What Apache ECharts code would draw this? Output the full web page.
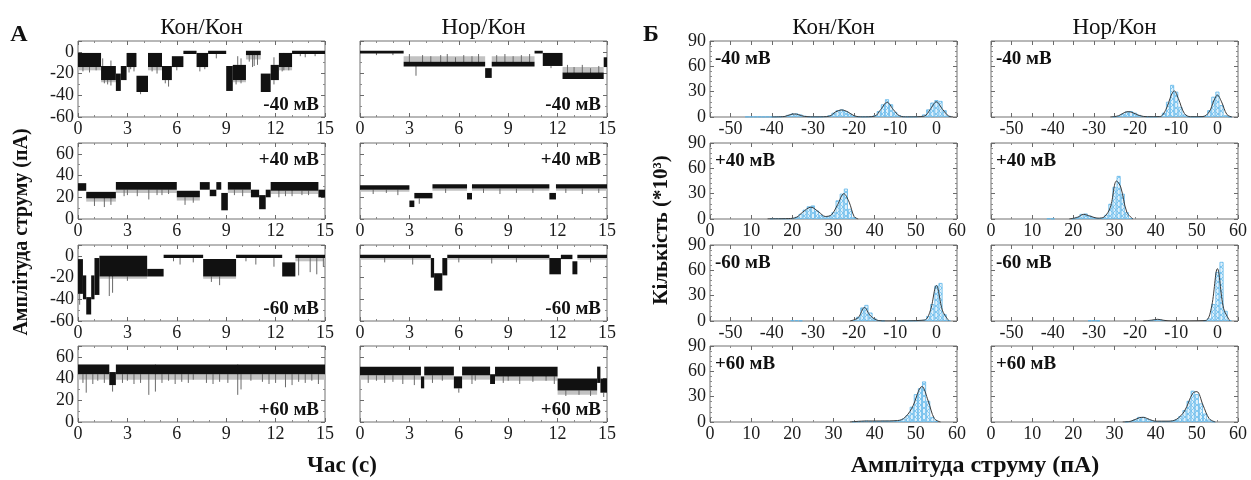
<!DOCTYPE html>
<html><head><meta charset="utf-8">
<script src="https://cdn.jsdelivr.net/npm/echarts@6.0.0/dist/echarts.min.js"></script>
<style>html,body{margin:0;padding:0;background:#fff}#c{width:1251px;height:480px}</style>
</head><body><div id="c"></div>
<script>
// ---------- DATA ----------
const columnTitles = ['Кон/Кон', 'Нор/Кон'];
const voltageLabels = ['-40 мВ', '+40 мВ', '-60 мВ', '+60 мВ'];
const timeTickStep = 3;

// Current traces: blocks [t0, t1, upper pA, lower pA]; fringe = grey noise bands; spikes [t, from pA, to pA]
const traceKonM40 = [[0,1.4,-1,-14],[1.4,2.3,-13,-26],[2.3,2.6,-20,-36],[2.6,2.95,-13,-26],[2.95,3.55,-1,-14],[3.55,4.25,-22,-37],[4.25,5.1,-1,-14],[5.1,5.7,-13,-26],[5.7,6.4,-4,-14],[6.4,7.2,1,-2],[7.2,7.9,-1,-14],[7.9,9.0,1,-2],[9.0,9.4,-13,-36],[9.4,10.2,-12,-26],[10.2,11.1,1,-3],[11.1,11.7,-20,-37],[11.7,12.2,-12,-26],[12.2,13.0,-1,-14],[13.0,15,1,-2]];
const fringeKonM40 = [[0,1.4,-14,-17],[1.4,2.3,-26,-28],[4.25,5.1,-14,-17],[9.4,10.2,-26,-28],[10.2,11.1,-3,-7],[12.2,13.0,-14,-17]];
const spikesKonM40 = [[1.8,-14,-30],[3.2,-2,-16],[5.5,-20,-32],[8.4,-1,-6],[10.6,-1,-14],[10.9,-1,-12],[12.5,-1,-17],[13.5,0,-4],[0.3,-14,-18],[0.7,-14,-19],[1.1,-14,-17],[1.6,-26,-29],[2.0,-26,-31],[3.1,-14,-19],[3.4,-14,-18],[3.8,-37,-39],[4.5,-14,-18],[4.8,-14,-20],[5.3,-26,-29],[6.0,-14,-17],[7.4,-14,-18],[7.7,-14,-16],[9.6,-26,-30],[9.9,-26,-29],[10.4,-3,-9],[10.7,-3,-13],[11.9,-26,-30],[12.4,-14,-18],[12.8,-14,-17],[13.8,-2,-5],[14.4,-2,-4],[1.5,-13,-6],[2.0,-13,-8],[9.7,-12,-4],[9.9,-12,-6],[11.9,-12,-5]];
const traceNorM40 = [[0,2.65,1,-1.5],[2.65,7.6,-9,-13.5],[7.6,8.0,-15,-24],[8.0,10.6,-9,-13.5],[10.6,11.1,1,-1.5],[11.1,12.3,-1,-13],[12.3,14.8,-19,-25],[14.8,15,-5,-14]];
const fringeNorM40 = [[2.65,7.6,-4,-9],[8.0,10.6,-4,-9],[12.3,14.8,-14,-19]];
const spikesNorM40 = [[3.0,-2,-12],[3.4,-12,-22],[3.8,-3,-12],[4.3,-4,-12],[4.9,-3,-12],[5.3,-2,-12],[5.8,-5,-12],[6.3,-3,-12],[6.8,-4,-12],[7.2,-2,-12],[8.3,-3,-12],[8.8,-2,-12],[9.3,-4,-12],[9.8,-3,-12],[10.3,-2,-12],[12.6,-12,-24],[13.0,-14,-24],[13.5,-12,-24],[14.0,-15,-24],[14.5,-13,-24],[15,-8,-14],[1.0,-1,-3],[2.0,-1,-3],[11.6,-13,-15]];
const traceKonP40 = [[0,0.5,33,26],[0.5,2.3,25,19],[2.3,6.0,34,27],[6.0,7.4,26,20],[7.4,8.0,34,27],[8.0,8.4,27,21],[8.4,8.7,34,27],[8.7,9.1,24,8],[9.1,10.5,34,27],[10.5,11.0,27,20],[11.0,11.4,22,9],[11.4,11.7,27,20],[11.7,14.6,34,26],[14.6,15,27,20]];
const fringeKonP40 = [[0.5,2.3,19,16],[2.3,6.0,27,24],[6.0,7.4,20,17],[9.1,10.5,27,24],[11.7,14.6,26,23]];
const spikesKonP40 = [[1.0,20,12],[1.6,20,11],[2.0,20,13],[3.0,27,22],[4.3,27,18],[4.8,27,22],[5.5,27,23],[6.5,20,13],[7.0,20,15],[10.0,27,21],[12.2,27,20],[13.0,27,21],[14.0,26,22],[2.8,27,21],[3.6,27,21],[5.1,27,22],[9.5,27,22],[12.6,26,21],[13.6,26,22]];
const traceNorP40 = [[0,3.0,31,27],[3.0,3.3,17,11],[3.3,4.4,24,19],[4.4,6.5,32,28],[6.5,6.8,24,18],[6.8,11.5,32,28],[11.5,11.9,24,18],[11.9,15,32,28]];
const fringeNorP40 = [[0,3.0,27,25],[4.4,6.5,28,26],[6.8,11.5,28,26],[11.9,15,28,26]];
const spikesNorP40 = [[0.8,27,23],[1.6,27,24],[2.3,27,22],[3.6,19,14],[5.2,28,24],[7.5,28,24],[8.5,28,23],[9.5,28,24],[10.5,28,24],[12.5,28,24],[13.5,28,23],[14.5,28,24]];
const traceKonM60 = [[0,0.3,-3,-35],[0.3,0.5,-18,-40],[0.5,0.8,-38,-54],[0.8,1.0,-18,-40],[1.0,1.3,-2,-36],[1.3,4.2,0,-19],[4.2,5.2,-12,-19],[5.2,7.6,1,-2],[7.6,9.6,-3,-19],[9.6,12.4,1,-2],[12.4,13.2,-6,-19],[13.2,15,1,-2]];
const fringeKonM60 = [[1.3,4.2,-19,-21],[7.6,9.6,-19,-21],[13.2,15,-2,-5]];
const spikesKonM60 = [[1.9,-15,-37],[2.1,-15,-34],[6.2,-2,-8],[8.6,-19,-27],[10.8,-2,-8],[11.9,-2,-10],[13.4,-2,-18],[14.1,-2,-15],[14.5,-2,-17],[14.9,-2,-10],[0.1,-35,-45],[5.8,-2,-5],[7.0,-2,-6],[10.2,-2,-5],[3.0,-19,-23],[8.1,-19,-24]];
const traceNorM60 = [[0,4.3,1,-2],[4.3,4.5,-2,-20],[4.5,5.0,-16,-32],[5.0,5.3,-2,-18],[5.3,11.5,1,-2],[11.5,12.2,-2,-17],[12.2,12.9,1,-3],[12.9,13.2,-5,-17],[13.2,15,1,-2]];
const fringeNorM60 = [[0,4.3,-2,-3.5],[5.3,11.5,-2,-3.5],[13.2,15,-2,-3.5]];
const spikesNorM60 = [[1.5,-2,-6],[3.2,-2,-8],[6.0,-2,-6],[8.0,-2,-7],[9.5,-2,-6],[14.0,-2,-6]];
const traceKonP60 = [[0,1.9,53,44],[1.9,2.3,46,34],[2.3,15,53,44]];
const fringeKonP60 = [[0,1.9,44,39],[2.3,15,44,39]];
const spikesKonP60 = [[0.3,44,36],[0.5,44,27],[1.2,44,38],[2.1,34,28],[3.0,44,38],[3.8,44,36],[4.3,44,25],[4.7,53,28],[5.5,44,38],[6.3,44,37],[7.0,44,39],[7.8,44,36],[8.6,44,37],[9.7,53,25],[9.9,44,30],[10.5,44,38],[11.2,44,37],[12.0,44,36],[12.6,44,32],[13.4,44,37],[14.2,44,38],[0.9,44,35],[1.6,44,36],[2.7,44,36],[3.4,44,35],[5.1,44,36],[5.9,44,35],[6.7,44,36],[8.2,44,35],[9.1,44,36],[11.6,44,35],[13.0,44,34],[13.8,44,36],[14.6,44,35]];
const traceNorP60 = [[0,3.7,51,43],[3.7,3.9,42,31],[3.9,5.7,51,43],[5.7,6.2,42,31],[6.2,7.9,51,43],[7.9,8.2,44,35],[8.2,12.0,51,42],[12.0,14.4,40,29],[14.4,14.6,51,36],[14.6,15,40,27]];
const fringeNorP60 = [[0,3.7,43,39],[3.9,5.7,43,39],[6.2,7.9,43,39],[8.2,12.0,42,38],[12.0,14.4,29,25]];
const spikesNorP60 = [[1.0,43,38],[2.0,43,37],[3.3,43,34],[5.0,43,38],[6.0,31,27],[7.0,43,38],[9.0,43,38],[10.5,43,37],[11.3,43,38],[12.5,29,24],[13.3,29,25],[14.0,29,24],[14.8,27,23],[0.5,43,36],[1.5,43,36],[2.6,43,35],[4.4,43,36],[6.8,43,35],[8.7,42,36],[9.7,42,35],[11.8,42,35]];

// Histograms: [amplitude pA, count *10^3]; fits: [amplitude, count]
const histKonM40 = [[-46,0.3],[-45,0.4],[-44,0.3],[-43,0.3],[-42,0.2],[-41,0.3],[-40,0.2],[-39,0.3],[-38,0.5],[-37,1],[-36,2.5],[-35,4],[-34,4.2],[-33,3],[-32,1.5],[-31,0.6],[-30,0.3],[-29,0.3],[-28,0.4],[-27,0.8],[-26,2],[-25,5],[-24,8],[-23,9],[-22,7],[-21,4],[-20,1.5],[-19,0.6],[-18,0.4],[-17,0.4],[-16,0.6],[-15,2],[-14,7],[-13,15],[-12,21],[-11,15],[-10,6],[-9,2],[-8,0.6],[-7,0.4],[-6,0.4],[-5,0.5],[-4,1],[-3,3],[-2,9],[-1,17],[0,20],[1,19],[2,8],[3,1.5]];
const fitKonM40 = [[-40,0],[-37,0.5],[-35.5,2.8],[-34.5,3.6],[-33.5,2.8],[-32,0.6],[-29,0.1],[-26,1],[-24.5,6],[-23,8.3],[-21.5,6],[-20,1.5],[-18,0.1],[-15,1],[-13.5,9],[-12,17.5],[-10.5,9],[-9,1.5],[-7,0.1],[-3,1],[-1.5,9],[0,18],[1.5,9],[3,1],[4,0.1]];
const histNorM40 = [[-25,0.4],[-24,1.5],[-23,4],[-22,6.5],[-21,7],[-20,5],[-19,2.5],[-18,1],[-17,0.5],[-16,0.4],[-15,0.4],[-14,1],[-13,5],[-12,18],[-11,38],[-10,30],[-9,12],[-8,3],[-7,0.6],[-6,0.3],[-5,0.3],[-4,0.4],[-3,1.5],[-2,8],[-1,24],[0,30],[1,14],[2,2],[3,0.3]];
const fitNorM40 = [[-26,0],[-24,1.5],[-22.5,5.5],[-21.5,6.3],[-20.5,5],[-19,1.8],[-17,0.3],[-14,0.5],[-12.5,9],[-11.2,26],[-10.5,31],[-9.5,22],[-8,4],[-6.5,0.3],[-3.5,0.5],[-2,6],[-0.8,20],[0,26],[1,18],[2.3,3],[3.5,0]];
const histKonP40 = [[15,0.6],[16,0.8],[17,0.7],[18,0.5],[19,0.6],[20,1],[21,2.5],[22,6],[23,11],[24,15],[25,16],[26,10],[27,5],[28,3],[29,3.5],[30,8],[31,22],[32,30],[33,36],[34,12],[35,2]];
const fitKonP40 = [[14,0.2],[19,0.5],[21,2],[22.5,8],[24.5,14],[26.5,8],[28,3],[29.5,5],[31,17],[32.5,30],[33.8,20],[35,3],[36,0]];
const histNorP40 = [[14,0.6],[15,0.4],[20,0.5],[21,2.5],[22,6],[23,6.5],[24,4],[25,2],[26,1],[27,1.5],[28,5],[29,18],[30,38],[31,51],[32,30],[33,8],[34,1]];
const fitNorP40 = [[19,0],[21,2],[22.5,5.5],[24,3.5],[26,1],[27.5,2.5],[29,14],[30.5,45],[31.5,38],[33,8],[34.5,0]];
const histKonM60 = [[-35,0.8],[-34,0.8],[-33,0.5],[-20,1],[-19,5],[-18,16],[-17,19],[-16,10],[-15,3],[-14,0.8],[-13,0.3],[-9,0.5],[-8,0.5],[-7,0.5],[-6,0.5],[-5,0.5],[-4,0.8],[-3,1.5],[-2,6],[-1,20],[0,42],[1,45],[2,8],[3,1]];
const fitKonM60 = [[-21,0],[-19,4],[-17.5,16],[-16,6],[-14,0.5],[-12,0],[-3,1],[-1.5,12],[0,42],[1.5,12],[3,0.5]];
const histNorM60 = [[-31,0.6],[-30,0.8],[-29,0.5],[-16,1],[-15,2],[-14,2],[-13,1],[-3,0.6],[-2,3],[-1,20],[0,58],[1,70],[2,12],[3,1]];
const fitNorM60 = [[-18,0],[-16,1],[-14.5,2],[-13,0.8],[-11,0],[-3,0.5],[-1.5,15],[0,62],[1.5,15],[3,0.3]];
const histKonP60 = [[35,0.4],[36,0.6],[37,1],[38,1.5],[39,1],[40,0.8],[41,1],[42,1.5],[43,1.5],[44,1.3],[45,1.5],[46,2],[47,4],[48,8],[49,18],[50,33],[51,40],[52,48],[53,25],[54,6],[55,1]];
const fitKonP60 = [[34,0],[38,1.2],[42,1.2],[45,1.5],[47,4],[49,16],[51.5,42],[53,25],[54.5,4],[56,0]];
const histNorP60 = [[33,0.3],[34,1],[35,3],[36,6],[37,6],[38,4],[39,2],[40,1],[41,0.8],[42,0.8],[43,1],[44,1.5],[45,3],[46,7],[47,14],[48,25],[49,37],[50,33],[51,22],[52,10],[53,3],[54,0.5]];
const fitNorP60 = [[32,0],[34,1],[36,5],[37,5.5],[38.5,3],[40,1],[43,1],[45,3],[47,13],[49,34],[50,36],[51.5,20],[53,4],[54.5,0]];

// ---------- LAYOUT ----------
const FONT = '"Liberation Serif","Times New Roman",serif';
const colA = [78, 360], colB = [710, 991];
const rowTop = [41, 143, 245, 346];
const W = 247, H = 76;
const negRow = [true, false, true, false];

const traceRows = [
  [[traceKonM40, fringeKonM40, spikesKonM40], [traceNorM40, fringeNorM40, spikesNorM40]],
  [[traceKonP40, fringeKonP40, spikesKonP40], [traceNorP40, fringeNorP40, spikesNorP40]],
  [[traceKonM60, fringeKonM60, spikesKonM60], [traceNorM60, fringeNorM60, spikesNorM60]],
  [[traceKonP60, fringeKonP60, spikesKonP60], [traceNorP60, fringeNorP60, spikesNorP60]]
];
const histRows = [
  [[histKonM40, fitKonM40], [histNorM40, fitNorM40]],
  [[histKonP40, fitKonP40], [histNorP40, fitNorP40]],
  [[histKonM60, fitKonM60], [histNorM60, fitNorM60]],
  [[histKonP60, fitKonP60], [histNorP60, fitNorP60]]
];

const pat = document.createElement('canvas');
pat.width = 6; pat.height = 6;
(function(){const g = pat.getContext('2d'); g.fillStyle = '#dff1fc'; g.fillRect(0,0,6,6);
 g.strokeStyle = '#79c4ef'; g.lineWidth = 0.9; g.beginPath(); g.moveTo(0,6); g.lineTo(6,0); g.moveTo(0,0); g.lineTo(6,6); g.stroke();})();

const grids = [], xAxes = [], yAxes = [], series = [], graphics = [];
const tickStyle = {show:true, inside:true, length:4, lineStyle:{color:'#6a6a6a', width:1}};
const minorStyle = (n) => ({show:true, splitNumber:n, length:2, lineStyle:{color:'#8a8a8a', width:1}});
const labelStyle = {fontFamily:FONT, fontSize:18, color:'#1a1a1a'};
const noLine = {show:false, onZero:false};

function addPanel(left, top, xopt, xfmt, yopt, showY, showYMax) {
  const gi = grids.length;
  grids.push({left:left, top:top, width:W, height:H, show:true, borderColor:'#707070', borderWidth:1, backgroundColor:'rgba(0,0,0,0)'});
  const xi = xAxes.length;
  const xl = Object.assign({margin:3}, labelStyle);
  if (xfmt) xl.formatter = xfmt;
  xAxes.push(Object.assign({type:'value', gridIndex:gi, position:'bottom', axisLine:noLine, splitLine:{show:false},
    axisTick:tickStyle}, xopt, {axisLabel:xl}));
  xAxes.push(Object.assign({type:'value', gridIndex:gi, position:'top', axisLine:noLine, splitLine:{show:false},
    axisTick:tickStyle}, xopt, {axisLabel:{show:false}}));
  const yi = yAxes.length;
  yAxes.push(Object.assign({type:'value', gridIndex:gi, position:'left', axisLine:noLine, splitLine:{show:false},
    axisTick:tickStyle}, yopt, {axisLabel:Object.assign({show:showY, margin:4, showMaxLabel:showYMax}, labelStyle)}));
  yAxes.push(Object.assign({type:'value', gridIndex:gi, position:'right', axisLine:noLine, splitLine:{show:false},
    axisTick:tickStyle}, yopt, {axisLabel:{show:false}}));
  return {xi:xi, yi:yi};
}

function makeBlockRenderer(fill, minH) {
  return function (params, api) {
    const a = api.coord([api.value(0), api.value(2)]);
    const b = api.coord([api.value(1), api.value(3)]);
    return {type:'rect', shape:{x:a[0], y:a[1], width:Math.max(b[0]-a[0], 1), height:Math.max(b[1]-a[1], minH)}, style:{fill:fill}};
  };
}
function renderSpike(params, api) {
  const a = api.coord([api.value(0), api.value(1)]);
  const b = api.coord([api.value(0), api.value(2)]);
  return {type:'line', shape:{x1:a[0], y1:a[1], x2:b[0], y2:b[1]}, style:{stroke:'#6a6a6a', lineWidth:1}};
}

function txt(x, y, text, font, align, valign, rot) {
  const el = {type:'text', x:x, y:y, silent:true, z:100,
    style:{text:text, x:0, y:0, font:font, fill:'#111', align:align, verticalAlign:valign, textAlign:align, textVerticalAlign:valign}};
  if (rot) el.rotation = rot;
  graphics.push(el);
}

// Panel A: traces
for (let r = 0; r < 4; r++) {
  for (let c = 0; c < 2; c++) {
    const neg = negRow[r];
    const ax = addPanel(colA[c], rowTop[r],
      {min:0, max:15, interval:timeTickStep, minorTick:minorStyle(3)}, null,
      {min:neg ? -60 : 0, max:neg ? 10 : 70, interval:20, minorTick:minorStyle(2)}, c === 0, false);
    const [blocks, fringe, spikes] = traceRows[r][c];
    series.push({type:'custom', xAxisIndex:ax.xi, yAxisIndex:ax.yi, clip:true, silent:true,
      encode:{x:[0,1], y:[2,3]}, renderItem:makeBlockRenderer('#c2c2c2', 1), data:fringe});
    series.push({type:'custom', xAxisIndex:ax.xi, yAxisIndex:ax.yi, clip:true, silent:true,
      encode:{x:0, y:[1,2]}, renderItem:renderSpike, data:spikes});
    series.push({type:'custom', xAxisIndex:ax.xi, yAxisIndex:ax.yi, clip:true, silent:true,
      encode:{x:[0,1], y:[2,3]}, renderItem:makeBlockRenderer('#111', 1.5), data:blocks});
    const right = colA[c] + W - 6;
    if (r === 1) txt(right, rowTop[r] + 8, voltageLabels[r], 'bold 19px ' + FONT, 'right', 'top');
    else txt(right, rowTop[r] + H - 2, voltageLabels[r], 'bold 19px ' + FONT, 'right', 'bottom');
  }
}

// Panel Б: histograms
const tenOnly = (v) => (v % 10 === 0 ? String(v) : '');
for (let r = 0; r < 4; r++) {
  for (let c = 0; c < 2; c++) {
    const neg = negRow[r];
    const xopt = neg ? {min:-55, max:5, interval:5, minorTick:{show:false}} : {min:0, max:60, interval:10, minorTick:minorStyle(2)};
    const ax = addPanel(colB[c], rowTop[r], xopt, neg ? tenOnly : null,
      {min:0, max:90, interval:30, minorTick:minorStyle(5)}, c === 0, true);
    const [hist, fit] = histRows[r][c];
    series.push({type:'bar', xAxisIndex:ax.xi, yAxisIndex:ax.yi, barWidth:4, silent:true, data:hist,
      itemStyle:{color:{image:pat, repeat:'repeat'}, borderColor:'#5fb6ea', borderWidth:0.8}});
    series.push({type:'line', xAxisIndex:ax.xi, yAxisIndex:ax.yi, smooth:0.35, symbol:'none', silent:true, data:fit,
      lineStyle:{color:'#3a3a3a', width:1}, z:5});
    txt(colB[c] + 5, rowTop[r] + 9, voltageLabels[r], 'bold 19px ' + FONT, 'left', 'top');
  }
}

// Titles and axis names
txt(19, 35, 'А', 'bold 24px ' + FONT, 'center', 'middle');
txt(651, 35, 'Б', 'bold 24px ' + FONT, 'center', 'middle');
for (let c = 0; c < 2; c++) {
  txt(colA[c] + W / 2, 28, columnTitles[c], '23px ' + FONT, 'center', 'middle');
  txt(colB[c] + W / 2, 28, columnTitles[c], '23px ' + FONT, 'center', 'middle');
}
txt(22, 232, 'Амплітуда струму (пА)', 'bold 20px ' + FONT, 'center', 'middle', Math.PI / 2);
txt(662, 230, 'Кількість (*10³)', 'bold 21px ' + FONT, 'center', 'middle', Math.PI / 2);
txt(342, 466, 'Час (с)', 'bold 23px ' + FONT, 'center', 'middle');
txt(975, 466, 'Амплітуда струму (пА)', 'bold 24px ' + FONT, 'center', 'middle');

const chart = echarts.init(document.getElementById('c'), null, {renderer:'canvas'});
chart.setOption({animation:false, backgroundColor:'#fff', grid:grids, xAxis:xAxes, yAxis:yAxes, series:series, graphic:graphics});
</script></body></html>
